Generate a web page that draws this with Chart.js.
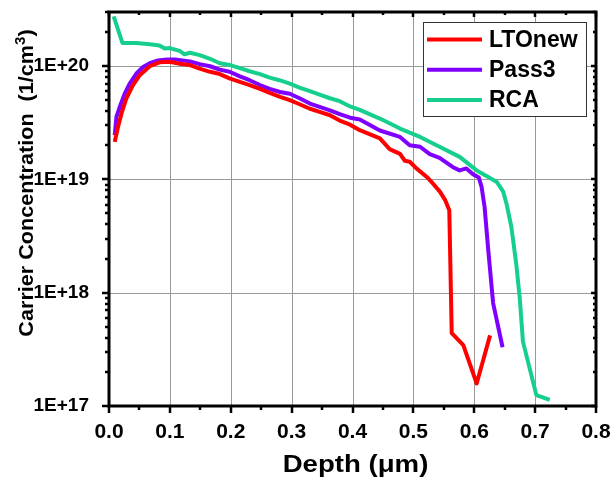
<!DOCTYPE html>
<html>
<head>
<meta charset="utf-8">
<script src="https://cdn.jsdelivr.net/npm/chart.js@4.4.1/dist/chart.umd.min.js"></script>
<style>
  html, body { margin: 0; padding: 0; background: #fff; }
  #wrap { width: 613px; height: 486px; }
</style>
</head>
<body>
<div id="wrap"><canvas id="c" width="613" height="486"></canvas></div>
<script>
// Depth profiles (µm) and carrier concentrations (1/cm^3)
const ltoDepth = [0.0094,0.0148,0.0204,0.0286,0.0394,0.0505,0.067,0.083,0.0997,0.116,0.133,0.149,0.166,0.182,0.198,0.215,0.231,0.248,0.264,0.281,0.297,0.313,0.330,0.346,0.363,0.379,0.396,0.412,0.445,0.461,0.478,0.486,0.494,0.505,0.522,0.532,0.5435,0.552,0.559,0.563,0.582,0.604,0.626];
const ltoConc  = [2.14e19,2.9e19,3.8e19,5.2e19,6.8e19,8.3e19,9.96e19,1.08e20,1.09e20,1.05e20,1.02e20,9.5e19,8.9e19,8.5e19,7.8e19,7.24e19,6.8e19,6.3e19,5.8e19,5.35e19,5.0e19,4.6e19,4.2e19,3.94e19,3.68e19,3.3e19,3.04e19,2.72e19,2.3e19,1.85e19,1.68e19,1.46e19,1.43e19,1.25e19,1.05e19,9.2e18,7.8e18,6.6e18,5.35e18,4.4e17,3.45e17,1.58e17,4.2e17];

const pass3Depth = [0.0094,0.0122,0.0176,0.0258,0.034,0.045,0.056,0.067,0.0805,0.096,0.111,0.133,0.149,0.166,0.182,0.198,0.215,0.231,0.248,0.264,0.281,0.297,0.313,0.330,0.346,0.363,0.379,0.396,0.412,0.445,0.478,0.494,0.511,0.527,0.543,0.565,0.576,0.587,0.598,0.6075,0.612,0.617,0.623,0.631,0.6465];
const pass3Conc  = [2.45e19,3.56e19,4.35e19,5.7e19,7.0e19,8.6e19,9.8e19,1.06e20,1.12e20,1.14e20,1.14e20,1.10e20,1.04e20,9.96e19,9.3e19,8.9e19,8.1e19,7.5e19,6.8e19,6.3e19,5.9e19,5.7e19,5.2e19,4.67e19,4.36e19,4.07e19,3.76e19,3.5e19,3.37e19,2.7e19,2.37e19,2.0e19,1.94e19,1.67e19,1.55e19,1.28e19,1.2e19,1.25e19,1.11e19,1.04e19,8.6e18,5.7e18,2.38e18,8.1e17,3.3e17];

const rcaDepth = [0.0077,0.022,0.045,0.067,0.083,0.0915,0.0997,0.116,0.124,0.133,0.149,0.166,0.182,0.199,0.215,0.231,0.248,0.264,0.280,0.297,0.313,0.330,0.346,0.363,0.379,0.396,0.412,0.445,0.478,0.511,0.543,0.576,0.604,0.623,0.637,0.6475,0.653,0.661,0.6695,0.675,0.680,0.702,0.724];
const rcaConc  = [2.75e20,1.6e20,1.6e20,1.56e20,1.52e20,1.43e20,1.44e20,1.36e20,1.27e20,1.31e20,1.25e20,1.16e20,1.06e20,1.02e20,9.6e19,9.0e19,8.5e19,7.9e19,7.5e19,7.0e19,6.46e19,6.0e19,5.6e19,5.2e19,4.9e19,4.4e19,4.1e19,3.44e19,2.81e19,2.37e19,1.94e19,1.58e19,1.2e19,1.05e19,9.5e18,7.8e18,6.1e18,3.8e18,1.7e18,8.6e17,3.7e17,1.25e17,1.13e17];

const seriesNames = ['LTOnew', 'Pass3', 'RCA'];
const xTickLabels = ['0.0','0.1','0.2','0.3','0.4','0.5','0.6','0.7','0.8'];
const yTickLabels = ['1E+17','1E+18','1E+19','1E+20'];

const FONT = "'Liberation Sans', Arial, Helvetica, sans-serif";
const colors = ['#ff0000', '#8000ff', '#17cf8c'];

const toPoints = (xs, ys) => xs.map((x, i) => ({ x, y: ys[i] }));
const isDecade = v => { const e = Math.log10(v); return Math.abs(e - Math.round(e)) < 1e-6; };

// Grid lines under the curves
const gridUnder = {
  id: 'gridUnder',
  beforeDatasetsDraw(chart) {
    const { ctx, chartArea: a, scales: { x, y } } = chart;
    ctx.save();
    ctx.strokeStyle = '#999';
    ctx.lineWidth = 1;
    ctx.beginPath();
    for (let i = 1; i < xTickLabels.length - 1; i++) {
      const px = Math.round(x.getPixelForValue(i / 10)) + 0.5;
      ctx.moveTo(px, a.top); ctx.lineTo(px, a.bottom);
    }
    for (let e = 18; e <= 20; e++) {
      const py = Math.round(y.getPixelForValue(Math.pow(10, e))) + 0.5;
      ctx.moveTo(a.left, py); ctx.lineTo(a.right, py);
    }
    ctx.stroke();
    ctx.restore();
  }
};

// Frame, tick marks, legend and axis titles
const decor = {
  id: 'decor',
  afterDraw(chart) {
    const { ctx, chartArea: a, scales: { x, y } } = chart;
    ctx.save();
    ctx.strokeStyle = '#000';
    ctx.lineCap = 'butt';
    ctx.lineWidth = 2.5;
    // x ticks: majors every 0.1, minors every 0.05
    for (let i = 0; i <= 16; i++) {
      const px = Math.round(x.getPixelForValue(i * 0.05));
      const major = i % 2 === 0;
      const out = major ? 7 : 4, inn = major ? 5 : 3;
      ctx.beginPath();
      ctx.moveTo(px, a.bottom); ctx.lineTo(px, a.bottom + out);
      ctx.moveTo(px, a.top); ctx.lineTo(px, a.top + inn);
      ctx.stroke();
    }
    // y ticks: decades major, 2..9 minor
    for (let e = 17; e <= 20; e++) {
      for (let m = 1; m <= 9; m++) {
        const v = m * Math.pow(10, e);
        if (v > y.max * 1.0001) break;
        const py = Math.round(y.getPixelForValue(v));
        const major = m === 1;
        const out = major ? 7 : 4, inn = major ? 5 : 3;
        ctx.beginPath();
        ctx.moveTo(a.left, py); ctx.lineTo(a.left - out, py);
        ctx.moveTo(a.right, py); ctx.lineTo(a.right - inn, py);
        ctx.stroke();
      }
    }
    // frame
    ctx.lineWidth = 3;
    ctx.strokeRect(a.left, a.top, a.right - a.left, a.bottom - a.top);

    // legend box
    const lx = 423.5, ly = 22.5, lw = 163, lh = 94;
    ctx.fillStyle = '#fff';
    ctx.fillRect(lx, ly, lw, lh);
    ctx.strokeStyle = '#333';
    ctx.lineWidth = 1;
    ctx.strokeRect(lx, ly, lw, lh);
    ctx.font = `bold 23px ${FONT}`;
    ctx.textBaseline = 'middle';
    ctx.textAlign = 'left';
    chart.data.datasets.forEach((ds, i) => {
      const cy = 39.5 + i * 30.2;
      ctx.strokeStyle = ds.borderColor;
      ctx.lineWidth = 4;
      ctx.beginPath();
      ctx.moveTo(427, cy); ctx.lineTo(482, cy);
      ctx.stroke();
      ctx.fillStyle = '#000';
      ctx.fillText(ds.label, 489, cy + 1);
    });

    // x axis title
    ctx.fillStyle = '#000';
    ctx.save();
    ctx.translate((a.left + a.right) / 2 + 3, 472);
    ctx.scale(1.2, 1);
    ctx.font = `bold 23px ${FONT}`;
    ctx.textAlign = 'center';
    ctx.textBaseline = 'alphabetic';
    ctx.fillText('Depth (\u03BCm)', 0, 0);
    ctx.restore();

    // y axis title with superscript
    ctx.save();
    ctx.translate(33, 183);
    ctx.rotate(-Math.PI / 2);
    ctx.scale(1.08, 1);
    const main = 'Carrier Concentration  (1/cm';
    const bigF = `bold 20px ${FONT}`, supF = `bold 14px ${FONT}`;
    ctx.font = bigF;
    const w1 = ctx.measureText(main).width;
    const w3 = ctx.measureText(')').width;
    ctx.font = supF;
    const w2 = ctx.measureText('3').width;
    let sx = -(w1 + w2 + w3) / 2;
    ctx.textAlign = 'left';
    ctx.textBaseline = 'alphabetic';
    ctx.font = bigF;
    ctx.fillText(main, sx, 0);
    sx += w1;
    ctx.font = supF;
    ctx.fillText('3', sx, -8);
    sx += w2;
    ctx.font = bigF;
    ctx.fillText(')', sx, 0);
    ctx.restore();

    ctx.restore();
  }
};

const data = {
  datasets: [
    { label: seriesNames[0], data: toPoints(ltoDepth, ltoConc) },
    { label: seriesNames[1], data: toPoints(pass3Depth, pass3Conc) },
    { label: seriesNames[2], data: toPoints(rcaDepth, rcaConc) }
  ].map((d, i) => Object.assign(d, {
    borderColor: colors[i],
    backgroundColor: colors[i],
    borderWidth: 4,
    pointRadius: 0,
    tension: 0,
    fill: false,
    borderJoinStyle: 'round'
  }))
};

const noOverflow = s => { s.paddingTop = 0; s.paddingBottom = 0; s.paddingLeft = 0; s.paddingRight = 0; };

new Chart(document.getElementById('c'), {
  type: 'line',
  data,
  options: {
    responsive: false,
    animation: false,
    devicePixelRatio: 1,
    layout: { padding: { top: 12, right: 17, left: 0, bottom: 0 } },
    plugins: { legend: { display: false }, tooltip: { enabled: false } },
    scales: {
      x: {
        type: 'linear', min: 0, max: 0.8,
        border: { display: false },
        grid: { display: false },
        ticks: {
          stepSize: 0.1, autoSkip: false, maxRotation: 0, padding: 6,
          color: '#000',
          font: { family: FONT, weight: 'bold', size: 21 },
          callback: v => xTickLabels[Math.round(v * 10)] ?? ''
        },
        afterFit: s => { s.height = 80; noOverflow(s); }
      },
      y: {
        type: 'logarithmic', min: 1e17, max: 3e20,
        border: { display: false },
        grid: { display: false },
        ticks: {
          autoSkip: false, padding: 12, color: '#000',
          font: { family: FONT, weight: 'bold', size: 19 },
          callback: v => isDecade(v) ? (yTickLabels[Math.round(Math.log10(v)) - 17] ?? '') : ''
        },
        afterFit: s => { s.width = 109; noOverflow(s); }
      }
    }
  },
  plugins: [gridUnder, decor]
});
</script>
</body>
</html>
